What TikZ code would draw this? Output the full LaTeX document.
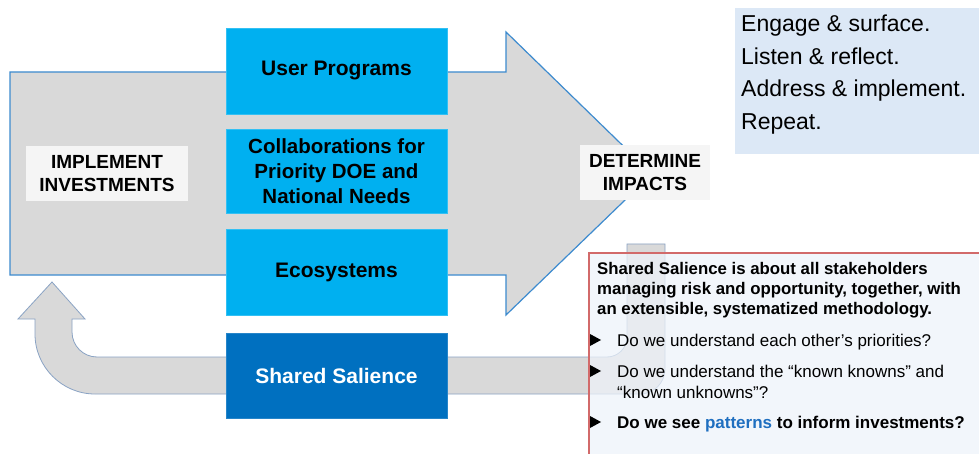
\documentclass[tikz,border=0pt]{standalone}
\usepackage{fontspec}
\setmainfont{Liberation Sans}
\definecolor{agray}{HTML}{D9D9D9}
\definecolor{ablue}{HTML}{3D8BCF}
\definecolor{lblue}{HTML}{00B0F0}
\definecolor{dblue}{HTML}{0070C0}
\definecolor{pale}{HTML}{DCE8F6}
\definecolor{boxfill}{HTML}{EEF3FA}
\definecolor{redb}{HTML}{D26A6A}
\definecolor{uline}{HTML}{8AA3C4}
\definecolor{patblue}{HTML}{1F6FC0}
\tikzset{
  bigarrow/.style={fill=agray, draw=ablue, line width=1.2pt, line join=miter},
  uarrow/.style={fill=agray, draw=uline, line width=0.8pt},
  bluebox/.style={fill=lblue, draw=lblue!80!white, line width=0.8pt, align=center, inner sep=0pt,
     minimum width=221pt, font=\bfseries\fontsize{21}{25}\selectfont},
  darkbox/.style={fill=dblue, draw=dblue!85!white, line width=0.8pt, text=white, align=center, inner sep=0pt,
     minimum width=221pt, minimum height=85pt, font=\bfseries\fontsize{21}{25}\selectfont},
  labelbox/.style={fill=white!96!black, align=center, inner sep=0pt,
     font=\bfseries\fontsize{19}{23}\selectfont},
  engtext/.style={anchor=base west, inner sep=0pt, font=\fontsize{23}{28}\selectfont},
  headtext/.style={anchor=base west, inner sep=0pt, font=\bfseries\fontsize{16.8}{20}\selectfont},
  bultext/.style={anchor=base west, inner sep=0pt, font=\fontsize{17}{20}\selectfont},
  bulmark/.style={fill=black},
}
\begin{document}
\begin{tikzpicture}[x=1pt, y=-1pt]
\useasboundingbox (0,0) rectangle (979,454);
\clip (0,0) rectangle (979,454);
\fill[white] (0,0) rectangle (979,454);
% big arrow
\draw[bigarrow] (10,72) -- (506,72) -- (506,32) -- (652,174) -- (506,315) -- (506,275) -- (10,275) -- cycle;
% U-turn arrow
\draw[uarrow] (627,244) -- (665,244) -- (665,369)
   .. controls (665,382.8) and (653.8,394) .. (640,394)
   -- (95,394)
   .. controls (62,394) and (35,367) .. (35,334)
   -- (35,319) -- (18,319) -- (52,282) -- (85,319) -- (72,319) -- (72,332)
   .. controls (72,345.8) and (83.2,357) .. (97,357)
   -- (607,357)
   .. controls (618,357) and (627,348) .. (627,337)
   -- cycle;
% blue boxes
\node[bluebox, minimum height=86pt] (up) at (336.5,71) {User Programs};
\node[bluebox, minimum height=84pt, font=\bfseries\fontsize{20.5}{25}\selectfont] (collab) at (336.5,171) {Collaborations for\\Priority DOE and\\National Needs};
\node[bluebox, minimum height=86pt] (eco) at (336.5,272) {Ecosystems};
\node[darkbox] (ss) at (336.5,375.5) {Shared Salience};
% labels
\node[labelbox, minimum width=162pt, minimum height=55pt] (impl) at (107,173.5) {IMPLEMENT\\INVESTMENTS};
\node[labelbox, minimum width=130pt, minimum height=55pt] (det) at (645,172.5) {DETERMINE\\IMPACTS};
% top right box
\fill[pale] (735,8) rectangle (985,154);
\node[engtext] (e1) at (741,32) {Engage \& surface.};
\node[engtext] (e2) at (741,64.5) {Listen \& reflect.};
\node[engtext] (e3) at (741,97) {Address \& implement.};
\node[engtext] (e4) at (741,129.5) {Repeat.};
% red box
\draw[fill=boxfill, fill opacity=0.72, draw=redb, line width=1.2pt] (589,253) rectangle (990,465);
\node[headtext] (h1) at (597,274.5) {Shared Salience is about all stakeholders};
\node[headtext] (h2) at (597,294.5) {managing risk and opportunity, together, with};
\node[headtext] (h3) at (597,314.5) {an extensible, systematized methodology.};
\fill[bulmark] (590,334) -- (601,340) -- (590,346) -- cycle;
\node[bultext] (b1) at (617,346) {Do we understand each other’s priorities?};
\fill[bulmark] (590,365) -- (601,371) -- (590,377) -- cycle;
\node[bultext] (b2) at (617,377) {Do we understand the “known knowns” and};
\node[bultext] (b2b) at (617,398) {“known unknowns”?};
\fill[bulmark] (590,416) -- (601,422) -- (590,428) -- cycle;
\node[bultext, font=\bfseries\fontsize{17}{20}\selectfont] (b3) at (617,428) {Do we see \textcolor{patblue}{patterns} to inform investments?};
\end{tikzpicture}
\end{document}
